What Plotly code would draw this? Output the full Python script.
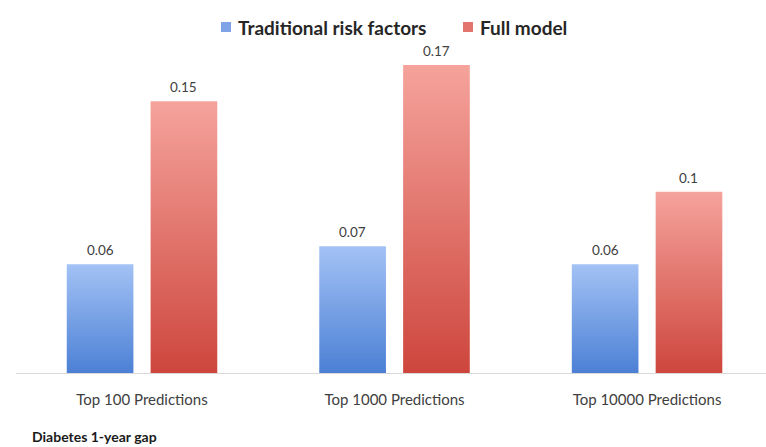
import plotly.graph_objects as go

# Data
categories = ["Top 100 Predictions", "Top 1000 Predictions", "Top 10000 Predictions"]
series_names = ["Traditional risk factors", "Full model"]
traditional = [0.06, 0.07, 0.06]
full_model = [0.15, 0.17, 0.10]

series_values = [traditional, full_model]
# gradient colours (bottom, top) and legend swatch colour per series
gradients = [("#4c80d5", "#a3c2f5"), ("#cd463d", "#f5a39c")]
swatches = ["#7fa3e6", "#e3746d"]

BAR_HALF = 0.132      # half bar width in category units
OFFSETS = [-0.166, 0.166]  # bar centre offsets within a group
FONT = "Lato"
TEXT_COLOR = "#404040"

fig = go.Figure()
annotations = []
shapes = []

for s, (name, vals) in enumerate(zip(series_names, series_values)):
    bottom, top = gradients[s]
    for i, v in enumerate(vals):
        xc = i + OFFSETS[s]
        fig.add_trace(go.Scatter(
            x=[xc - BAR_HALF, xc + BAR_HALF, xc + BAR_HALF, xc - BAR_HALF, xc - BAR_HALF],
            y=[0, 0, v, v, 0],
            mode="lines",
            line=dict(width=0, color=top),
            fill="toself",
            fillgradient=dict(type="vertical", colorscale=[[0, bottom], [1, top]]),
            name=name,
            showlegend=False,
            hoverinfo="skip",
        ))
        # value label above the bar
        annotations.append(dict(
            text=f"{v:g}",
            x=xc, y=v, xref="x", yref="y",
            xanchor="center", yanchor="middle", yshift=14,
            showarrow=False,
            font=dict(family=FONT, size=13.5, color=TEXT_COLOR),
        ))

# Legend row: colour swatch + bold label for each series
legend_swatch_x = [(0.2733, 0.2867), (0.596, 0.6093)]
legend_text_x = [0.2933, 0.616]
for s, name in enumerate(series_names):
    x0, x1 = legend_swatch_x[s]
    shapes.append(dict(
        type="rect", xref="paper", yref="paper",
        x0=x0, x1=x1, y0=1.024, y1=1.054,
        fillcolor=swatches[s], line=dict(width=0),
    ))
    annotations.append(dict(
        text=name,
        xref="paper", yref="paper",
        x=legend_text_x[s], y=1.039,
        xanchor="left", yanchor="middle",
        showarrow=False,
        font=dict(family=FONT, size=19, color="#262626", weight="bold"),
    ))

annotations.append(dict(
    text="Diabetes 1-year gap",
    xref="paper", yref="paper",
    x=0.019, y=-0.192,
    xanchor="left", yanchor="middle",
    showarrow=False,
    font=dict(family=FONT, size=14, color="#1a1a1a", weight="bold"),
))

fig.update_layout(
    width=766,
    height=447,
    margin=dict(l=16, r=0, t=40, b=74),
    paper_bgcolor="white",
    plot_bgcolor="white",
    font=dict(family=FONT, color=TEXT_COLOR),
    showlegend=False,
    xaxis=dict(
        range=[-0.499, 2.471],
        tickvals=list(range(len(categories))),
        ticktext=categories,
        showgrid=False,
        zeroline=False,
        showline=True,
        linecolor="#d9d9d9",
        linewidth=1,
        ticks="",
        ticklabelstandoff=13,
        tickfont=dict(family=FONT, size=15, color=TEXT_COLOR),
        fixedrange=True,
    ),
    yaxis=dict(
        range=[0, 0.1838],
        visible=False,
        showgrid=False,
        zeroline=False,
        fixedrange=True,
    ),
    annotations=annotations,
    shapes=shapes,
)

fig.write_html("out.html")
